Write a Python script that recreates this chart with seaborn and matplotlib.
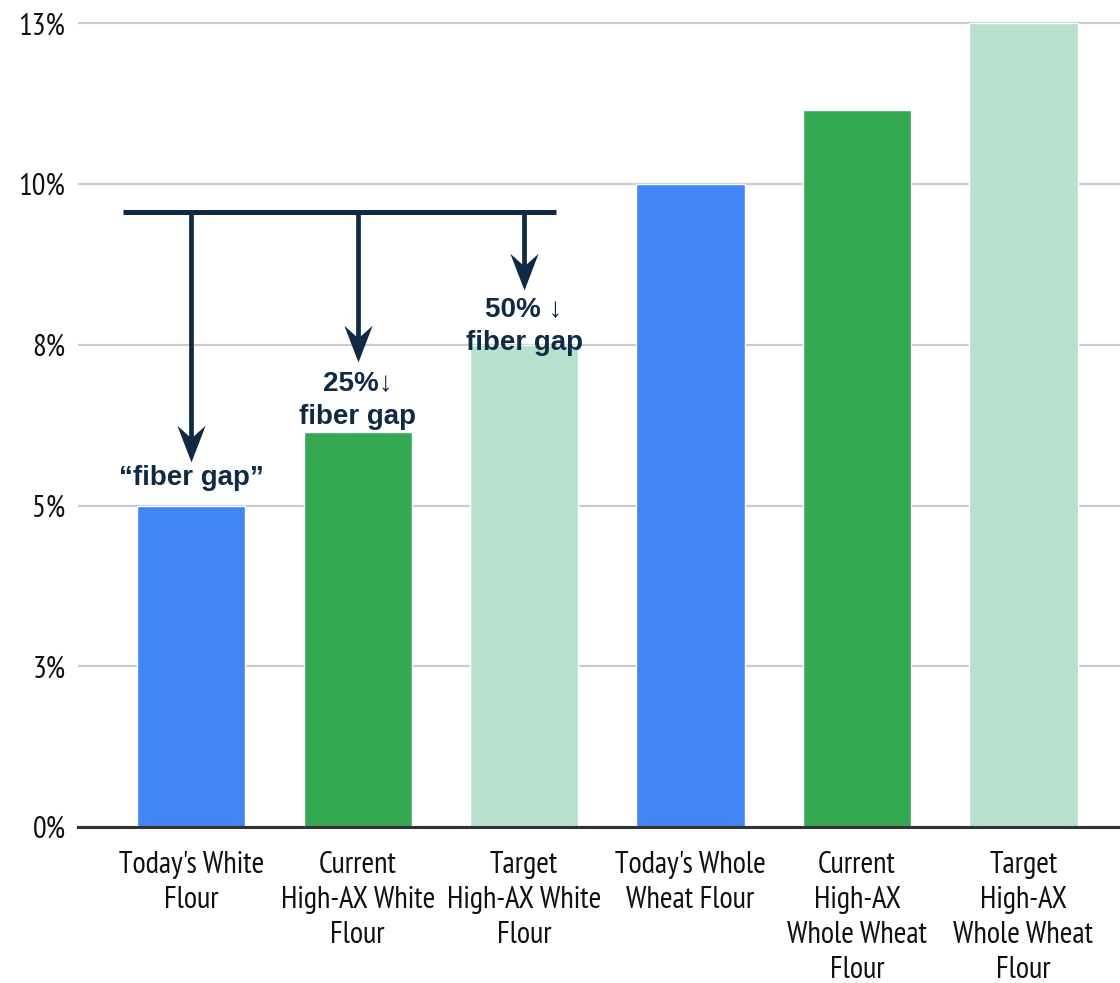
import matplotlib
matplotlib.use("Agg")
import matplotlib.pyplot as plt
from matplotlib.path import Path
import seaborn as sns
import pandas as pd

# Dietary fiber content by flour type (% of dry weight)
categories = [
    "Today's White\nFlour",
    "Current\nHigh-AX White\nFlour",
    "Target\nHigh-AX White\nFlour",
    "Today's Whole\nWheat Flour",
    "Current\nHigh-AX\nWhole Wheat\nFlour",
    "Target\nHigh-AX\nWhole Wheat\nFlour",
]
fiber_pct = [5.0, 6.15, 7.5, 10.0, 11.15, 12.5]
bar_colors = ["#4285F4", "#34A853", "#B7E1CD", "#4285F4", "#34A853", "#B7E1CD"]

y_ticks = [0, 2.5, 5, 7.5, 10, 12.5]
y_tick_labels = ["0%", "3%", "5%", "8%", "10%", "13%"]

# Fiber-gap callouts: (bar index, arrow tip value, label, label centre value)
gap_notes = [
    (0, 5.68, "\u201cfiber gap\u201d", 5.43),
    (1, 7.23, "25%\u2193\nfiber gap", 6.63),
    (2, 8.35, "50% \u2193\nfiber gap", 7.79),
]
bracket_level = 9.56

NAVY = "#102a44"
AXIS_FONT = ["PT Sans Narrow", "Liberation Sans", "DejaVu Sans"]
NOTE_FONT = ["Liberation Sans", "DejaVu Sans"]

sns.set_theme(style="white")
plt.rcParams["font.family"] = AXIS_FONT

fig = plt.figure(figsize=(11.2, 9.83), dpi=100)
ax = fig.add_axes([78 / 1120, 1 - 827 / 983, 1 - 78 / 1120, (827 - 15) / 983])

df = pd.DataFrame({"category": categories, "fiber": fiber_pct})
sns.barplot(data=df, x="category", y="fiber", hue="category",
            palette=bar_colors, legend=False, width=0.65, saturation=1,
            ax=ax, zorder=2)

ax.set_xlim(-0.68, 5.58)
ax.set_ylim(0, 12.63)
ax.set_yticks(y_ticks)
ax.set_yticklabels(y_tick_labels)
ax.set_xlabel("")
ax.set_ylabel("")

ax.yaxis.grid(True, color="#cccccc", linewidth=1.6, zorder=0)
ax.xaxis.grid(False)
ax.set_axisbelow(True)
for side in ["top", "right", "left"]:
    ax.spines[side].set_visible(False)
ax.spines["bottom"].set_color("#333333")
ax.spines["bottom"].set_linewidth(2.2)
ax.spines["bottom"].set_zorder(3)

ax.tick_params(axis="y", length=0, pad=9, labelsize=22, labelcolor="#111111")
ax.tick_params(axis="x", length=0, pad=17, labelsize=22, labelcolor="#111111")
for lbl in ax.get_xticklabels():
    lbl.set_linespacing(1.33)

# Notched arrowhead marker, tip at the origin, pointing down
head = Path([(0, 0), (-0.5, 1.3), (0, 0.85), (0.5, 1.3), (0, 0)],
            [Path.MOVETO, Path.LINETO, Path.LINETO, Path.LINETO, Path.CLOSEPOLY])

# Bracket bar spanning the three white-flour bars
ax.plot([-0.41, 2.19], [bracket_level, bracket_level], color=NAVY,
        linewidth=3.6, solid_capstyle="butt", zorder=5, clip_on=False)

for idx, tip, text, text_y in gap_notes:
    ax.plot([idx, idx], [bracket_level, tip + 0.3], color=NAVY,
            linewidth=3.4, solid_capstyle="butt", zorder=5)
    ax.plot([idx], [tip], marker=head, markersize=53, color=NAVY,
            markeredgewidth=0, zorder=6, linestyle="none")
    ax.text(idx, text_y, text, ha="center", va="center", color=NAVY,
            fontsize=20, fontweight="bold", linespacing=1.35,
            family=NOTE_FONT, zorder=7)

fig.savefig("out.png", dpi=100, facecolor="white")
